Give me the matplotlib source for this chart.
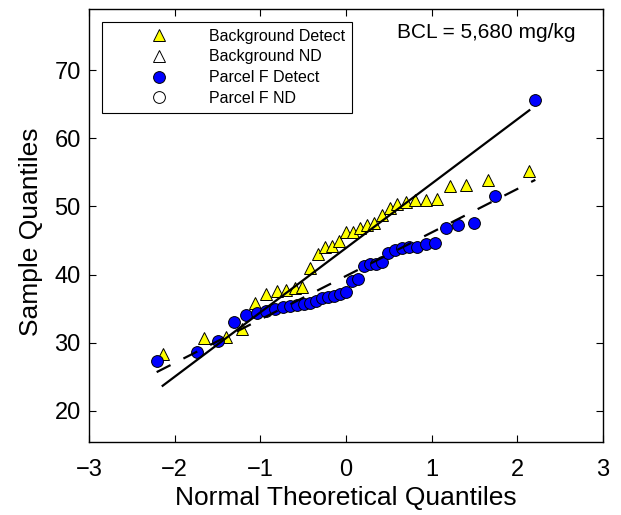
import matplotlib
matplotlib.use("Agg")
import matplotlib.pyplot as plt

plt.rcParams['font.family'] = ['Liberation Sans', 'DejaVu Sans']

# background samples (theoretical quantile, sample quantile)
bg_x = [-2.14, -1.66, -1.40, -1.21, -1.06, -0.93, -0.81, -0.70, -0.60, -0.51,
        -0.42, -0.33, -0.245, -0.16, -0.08, 0.0, 0.08, 0.16, 0.245, 0.33,
        0.42, 0.51, 0.60, 0.70, 0.81, 0.93, 1.06, 1.21, 1.40, 1.66, 2.14]
bg_y = [28.3, 30.7, 30.9, 32.0, 35.9, 37.1, 37.6, 37.8, 38.0, 38.2,
        41.0, 43.0, 44.1, 44.2, 45.0, 46.3, 46.3, 46.9, 47.3, 47.5,
        48.8, 49.7, 50.3, 50.7, 50.9, 50.9, 51.1, 53.0, 53.2, 53.9, 55.2]

# parcel F samples
pf_x = [-2.21, -1.745, -1.49, -1.31, -1.167, -1.04, -0.93, -0.83, -0.74, -0.65,
        -0.57, -0.49, -0.42, -0.345, -0.275, -0.205, -0.136, -0.068, 0.0,
        0.068, 0.136, 0.205, 0.275, 0.345, 0.42, 0.49, 0.57, 0.65, 0.74,
        0.83, 0.93, 1.04, 1.167, 1.31, 1.49, 1.745, 2.21]
pf_y = [27.3, 28.6, 30.3, 33.1, 34.1, 34.4, 34.7, 35.0, 35.2, 35.4,
        35.5, 35.7, 35.9, 36.2, 36.5, 36.7, 36.9, 37.1, 37.5,
        39.1, 39.3, 41.2, 41.5, 41.6, 41.8, 43.1, 43.6, 43.9, 44.0,
        44.1, 44.5, 44.6, 46.9, 47.3, 47.6, 51.6, 65.6]

# non-detects (none in this plot)
bg_nd_x, bg_nd_y = [], []
pf_nd_x, pf_nd_y = [], []

# reference lines (end points)
solid_x = [-2.14, 2.14]
solid_y = [23.7, 64.1]
dash_x = [-2.21, 2.21]
dash_y = [25.7, 53.9]

fig = plt.figure(figsize=(6.21, 5.15), dpi=100)
ax = fig.add_axes([0.1433, 0.1417, 0.8277, 0.8408])

ax.plot(bg_x, bg_y, '^', ms=9, mfc='#ffff00', mec='k', mew=0.7, ls='none',
        label='Background Detect', zorder=3)
ax.plot(bg_nd_x, bg_nd_y, '^', ms=9, mfc='white', mec='k', mew=0.7, ls='none',
        label='Background ND')
ax.plot(pf_x, pf_y, 'o', ms=8.5, mfc='#0000ff', mec='k', mew=0.7, ls='none',
        label='Parcel F Detect', zorder=3)
ax.plot(pf_nd_x, pf_nd_y, 'o', ms=8.5, mfc='white', mec='k', mew=0.7, ls='none',
        label='Parcel F ND')

# lines sit on top of the markers
ax.plot(solid_x, solid_y, '-', color='k', lw=1.6, zorder=5)
ax.plot(dash_x, dash_y, color='k', lw=1.6, linestyle=(0, (7, 6.5)), zorder=5)

ax.set_xlim(-3, 3)
ax.set_ylim(15.45, 78.95)
ax.set_xticks([-3, -2, -1, 0, 1, 2, 3])
ax.set_yticks([20, 30, 40, 50, 60, 70])
ax.tick_params(direction='in', length=5, width=0.8, top=True, right=True,
               labelsize=17)
ax.tick_params(axis='x', pad=12.5)
ax.tick_params(axis='y', pad=6)
for s in ax.spines.values():
    s.set_linewidth(1.0)

ax.set_xlabel('Normal Theoretical Quantiles', fontsize=19, labelpad=3)
ax.set_ylabel('Sample Quantiles', fontsize=19)
ax.yaxis.set_label_coords(-0.09, 0.485)

ax.text(0.9467, 0.933, 'BCL = 5,680 mg/kg', transform=ax.transAxes, fontsize=15,
        ha='right', va='baseline')

leg = ax.legend(loc='upper left', bbox_to_anchor=(102 / 621, 1 - 22 / 515),
                bbox_transform=fig.transFigure, fontsize=11.5, frameon=True,
                fancybox=False, edgecolor='k', framealpha=1, borderpad=0.42,
                labelspacing=0.36, handlelength=6.3, handletextpad=0.0,
                borderaxespad=0)
leg.get_frame().set_linewidth(0.8)

fig.savefig('out.png', dpi=100)
